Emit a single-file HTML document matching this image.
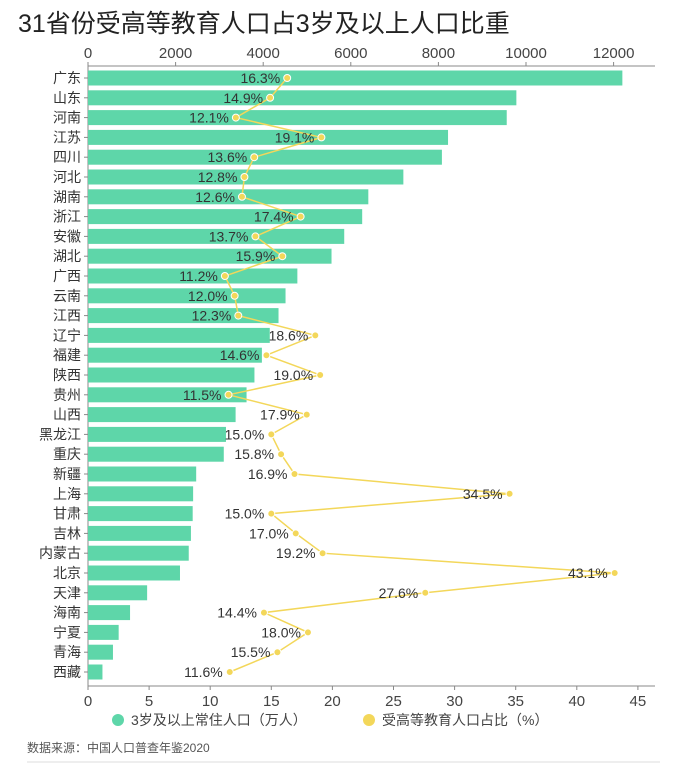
<!DOCTYPE html>
<html><head><meta charset="utf-8"><style>
body{margin:0;background:#fff;width:700px;height:763px;overflow:hidden;font-family:"Liberation Sans","Noto Sans CJK SC",sans-serif}
svg text{font-family:"Liberation Sans","Noto Sans CJK SC",sans-serif}
</style></head><body>
<svg id="c" width="700" height="763"></svg>
<script>
const provinces=["广东","山东","河南","江苏","四川","河北","湖南","浙江","安徽","湖北","广西","云南","江西","辽宁","福建","陕西","贵州","山西","黑龙江","重庆","新疆","上海","甘肃","吉林","内蒙古","北京","天津","海南","宁夏","青海","西藏"];
const population=[12200,9780,9560,8220,8080,7200,6400,6260,5850,5560,4780,4510,4350,4150,3970,3800,3620,3370,3150,3100,2470,2400,2390,2350,2300,2100,1350,960,700,570,330];
const eduPct=[16.3,14.9,12.1,19.1,13.6,12.8,12.6,17.4,13.7,15.9,11.2,12.0,12.3,18.6,14.6,19.0,11.5,17.9,15.0,15.8,16.9,34.5,15.0,17.0,19.2,43.1,27.6,14.4,18.0,15.5,11.6];
const topTicks=[0,2000,4000,6000,8000,10000,12000];
const bottomTicks=[0,5,10,15,20,25,30,35,40,45];
const NS="http://www.w3.org/2000/svg";
const svg=document.getElementById('c');
const x0=88;
const xPop=v=>x0+v*0.0438;
const xPct=v=>x0+v*12.22;
const yC=i=>78+i*19.8;
function mk(t,a,txt){const e=document.createElementNS(NS,t);for(const k in a)e.setAttribute(k,a[k]);if(txt!==undefined)e.textContent=txt;svg.appendChild(e);return e;}
let t=mk('text',{x:18,y:32,'font-size':25,fill:'#222'},'31省份受高等教育人口占3岁及以上人口比重');


// top axis
let a=mk('line',{x1:x0,y1:66,x2:655,y2:66,stroke:'#888','stroke-width':1});


topTicks.forEach(v=>{
 mk('line',{x1:xPop(v),y1:62,x2:xPop(v),y2:66,stroke:'#888'});
 let e=mk('text',{x:xPop(v),y:58,'font-size':15,fill:'#444','text-anchor':'middle'},v);
 
 
});
let b=mk('line',{x1:x0,y1:686,x2:655,y2:686,stroke:'#888','stroke-width':1});


bottomTicks.forEach(v=>{
 mk('line',{x1:xPct(v),y1:686,x2:xPct(v),y2:690,stroke:'#888'});
 let e=mk('text',{x:xPct(v),y:706,'font-size':15,fill:'#444','text-anchor':'middle'},v);
 
 
});
mk('line',{x1:x0,y1:66,x2:x0,y2:686,stroke:'#888'});
provinces.forEach((p,i)=>{
 let r=mk('rect',{x:x0,y:yC(i)-7.5,width:xPop(population[i])-x0,height:15,fill:'#5ed6a9'});
 
 
 mk('line',{x1:x0-4,y1:yC(i),x2:x0,y2:yC(i),stroke:'#888'});
 let l=mk('text',{x:x0-7,y:yC(i)+5,'font-size':14,fill:'#333','text-anchor':'end'},p);
 
 
});
let pts=eduPct.map((v,i)=>xPct(v)+','+yC(i)).join(' ');
let pl=mk('polyline',{points:pts,fill:'none',stroke:'#f3d75a','stroke-width':1.5});


eduPct.forEach((v,i)=>{
 let c=mk('circle',{cx:xPct(v),cy:yC(i),r:3.5,fill:'#f3d75a',stroke:'#fff','stroke-width':1});
 
 
 let l=mk('text',{x:xPct(v)-7,y:yC(i)+5,'font-size':14,fill:'#333','text-anchor':'end'},v.toFixed(1)+'%');
 
 
});
let g1=mk('circle',{cx:118,cy:720,r:6,fill:'#5ed6a9'});


let g1t=mk('text',{x:131,y:725,'font-size':14,fill:'#444'},'3岁及以上常住人口（万人）');


let g2=mk('circle',{cx:369,cy:720,r:6,fill:'#f3d75a'});


let g2t=mk('text',{x:382,y:725,'font-size':14,fill:'#444'},'受高等教育人口占比（%）');


let s=mk('text',{x:27,y:752,'font-size':12,fill:'#555'},'数据来源：中国人口普查年鉴2020');


mk('line',{x1:27,y1:762,x2:660,y2:762,stroke:'#ddd'});
</script>
</body></html>
